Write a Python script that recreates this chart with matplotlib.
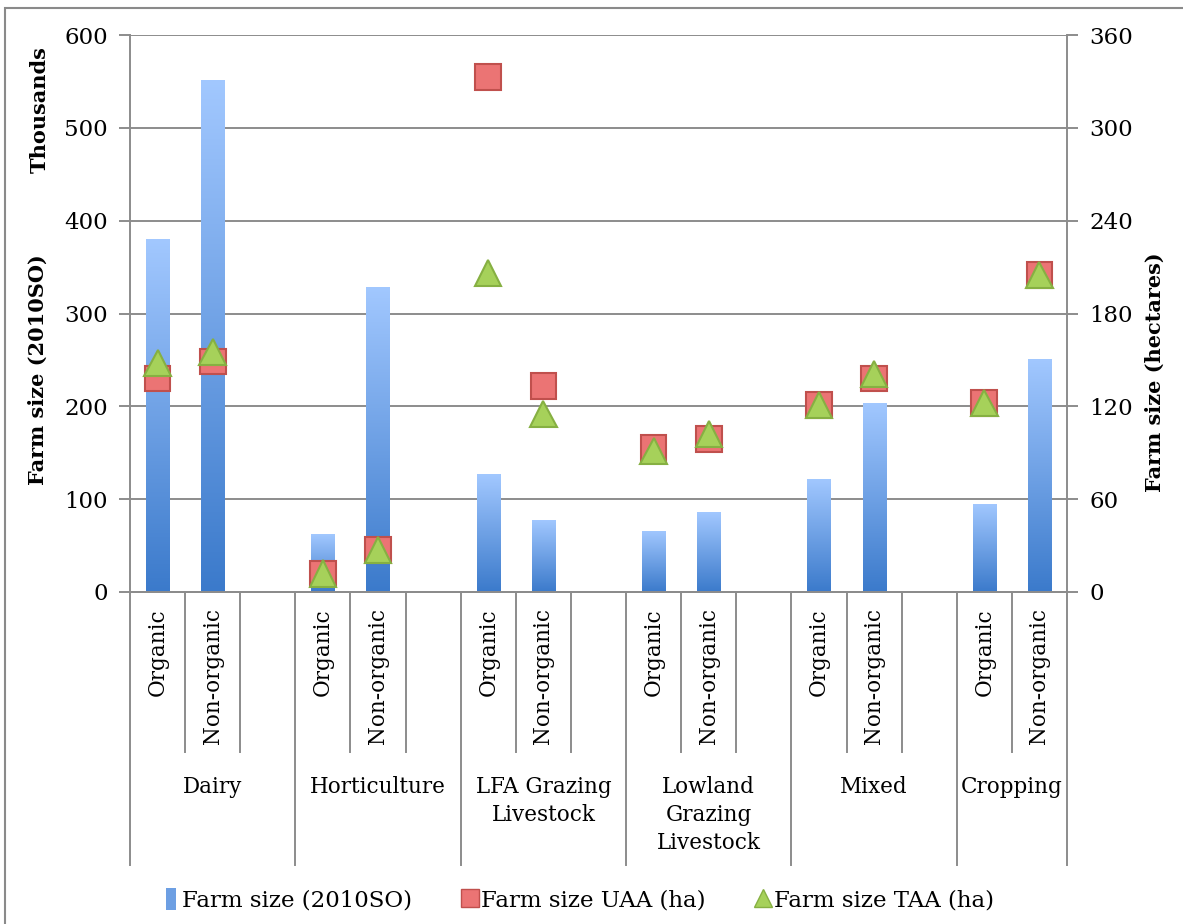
import numpy as np
import matplotlib
matplotlib.use('Agg')
import matplotlib.pyplot as plt
import matplotlib.transforms as mtransforms
import matplotlib.patheffects as pe
from matplotlib.colors import LinearSegmentedColormap
from matplotlib.patches import Patch, Rectangle
from matplotlib.lines import Line2D

# ---------------------------------------------------------------
# data
# ---------------------------------------------------------------
groups = ["Dairy", "Horticulture", "LFA Grazing\nLivestock",
          "Lowland\nGrazing\nLivestock", "Mixed", "Cropping"]
types = ["Organic", "Non-organic"]
farm_size_so = [380, 552, 62, 329, 127, 78, 66, 86, 122, 204, 95, 251]   # thousands
farm_size_uaa = [138, 149, 12, 27, 333, 133, 93, 99, 121, 138, 122, 205]  # ha
farm_size_taa = [148, 155, 12, 27, 206, 115, 91, 102, 121, 141, 122, 205]  # ha

# ---------------------------------------------------------------
# style
# ---------------------------------------------------------------
plt.rcParams['font.family'] = ['DejaVu Serif']
tickfs = 16.5
catfs = 15.5
legfs = 16.5
labelfs = 15
gridc = '#8c8c8c'
blue_dark = '#3b7acb'
blue_light = '#a2c8ff'
red_face = '#eb7474'
red_edge = '#c0504d'
green_face = '#a6d15a'
green_edge = '#86b042'

n_slots = 3 * len(groups) - 1
pos = []
for g in range(len(groups)):
    for k in range(len(types)):
        pos.append(3 * g + k + 0.5)
pos = np.array(pos)

fig = plt.figure(figsize=(11.83, 9.24), dpi=100)
ax = fig.add_axes([130 / 1183, 1 - 592 / 924, (1067 - 130) / 1183, (592 - 35) / 924])
ax2 = ax.twinx()

# gradient bars
cmap = LinearSegmentedColormap.from_list('bar', [blue_dark, blue_light])
grad = np.linspace(0, 1, 256).reshape(-1, 1)
bars = ax.bar(pos, farm_size_so, width=0.42, color='none', edgecolor='none', zorder=2)
for b in bars:
    im = ax.imshow(grad, extent=[b.get_x(), b.get_x() + b.get_width(), 0, b.get_height()],
                   origin='lower', aspect='auto', cmap=cmap, zorder=2)
    im.set_clip_path(b)

ax.set_xlim(0, n_slots)
ax.set_ylim(0, 600)
ax.set_yticks(np.arange(0, 601, 100))
ax.set_xticks([])
ax.grid(axis='y', color=gridc, linewidth=1.4, zorder=0)
ax.set_axisbelow(True)

# markers on the hectares axis
shadow = [pe.SimpleLineShadow(offset=(0.5, -2.5), shadow_color='#666666', alpha=0.2, linewidth=0),
          pe.Normal()]
ax2.plot(pos, farm_size_uaa, linestyle='none', marker='s', ms=18.5,
         mfc=red_face, mec=red_edge, mew=1.5, path_effects=shadow, zorder=3)
ax2.plot(pos, farm_size_taa, linestyle='none', marker='^', ms=19,
         mfc=green_face, mec=green_edge, mew=1.5, path_effects=shadow, zorder=4)
ax2.set_ylim(0, 360)
ax2.set_yticks(np.arange(0, 361, 60))

for a in (ax, ax2):
    for s in a.spines.values():
        s.set_color(gridc)
        s.set_linewidth(1.4)
    a.spines['top'].set_visible(False)
    a.tick_params(axis='y', length=8, width=1.4, color=gridc, labelsize=tickfs, pad=8)
ax.spines['right'].set_visible(False)
ax2.spines['left'].set_visible(False)

# multi-level category axis
trans = mtransforms.blended_transform_factory(ax.transData, ax.transAxes)
axh = 592 - 35
inner_end = -(752 - 592) / axh
outer_end = -(865 - 592) / axh
group_edges = [3 * g for g in range(len(groups))] + [n_slots]
for xb in range(n_slots + 1):
    yend = outer_end if xb in group_edges else inner_end
    ax.plot([xb, xb], [0, yend], color=gridc, lw=1.4, transform=trans, clip_on=False)

for i, p in enumerate(pos):
    ax.text(p, -16 / axh, types[i % 2], rotation=90, ha='center', va='top',
            fontsize=catfs, transform=trans)
for g, name in enumerate(groups):
    xc = (group_edges[g] + group_edges[g + 1]) / 2.0
    ax.text(xc, -(776 - 592) / axh, name, ha='center', va='top', fontsize=catfs,
            linespacing=1.35, transform=trans)

# axis titles
fig.text(40 / 1183, 1 - 110 / 924, 'Thousands', rotation=90, ha='center', va='center',
         fontsize=labelfs, fontweight='bold')
fig.text(38 / 1183, 1 - 370 / 924, 'Farm size (2010SO)', rotation=90, ha='center', va='center',
         fontsize=labelfs, fontweight='bold')
fig.text(1155 / 1183, 1 - 372 / 924, 'Farm size (hectares)', rotation=90, ha='center', va='center',
         fontsize=labelfs, fontweight='bold')

# legend
handles = [Patch(facecolor='#6d9fe3', edgecolor='none'),
           Line2D([], [], linestyle='none', marker='s', ms=13, mfc=red_face, mec=red_edge),
           Line2D([], [], linestyle='none', marker='^', ms=13, mfc=green_face, mec=green_edge)]
labels = ['Farm size (2010SO)', 'Farm size UAA (ha)', 'Farm size TAA (ha)']
fig.legend(handles, labels, loc='center', bbox_to_anchor=(580 / 1183, 1 - 900 / 924), ncol=3,
           frameon=False, fontsize=legfs, handlelength=0.45, handleheight=1.1,
           handletextpad=0.25, columnspacing=2.3)

# outer chart frame (clipped on right and bottom)
fig.patches.append(Rectangle((5 / 1183, -0.1), 1.2, 1 - 8 / 924 + 0.1, transform=fig.transFigure,
                             fill=False, edgecolor='#8a8a8a', linewidth=1.5))

fig.savefig('out.png', dpi=100)
